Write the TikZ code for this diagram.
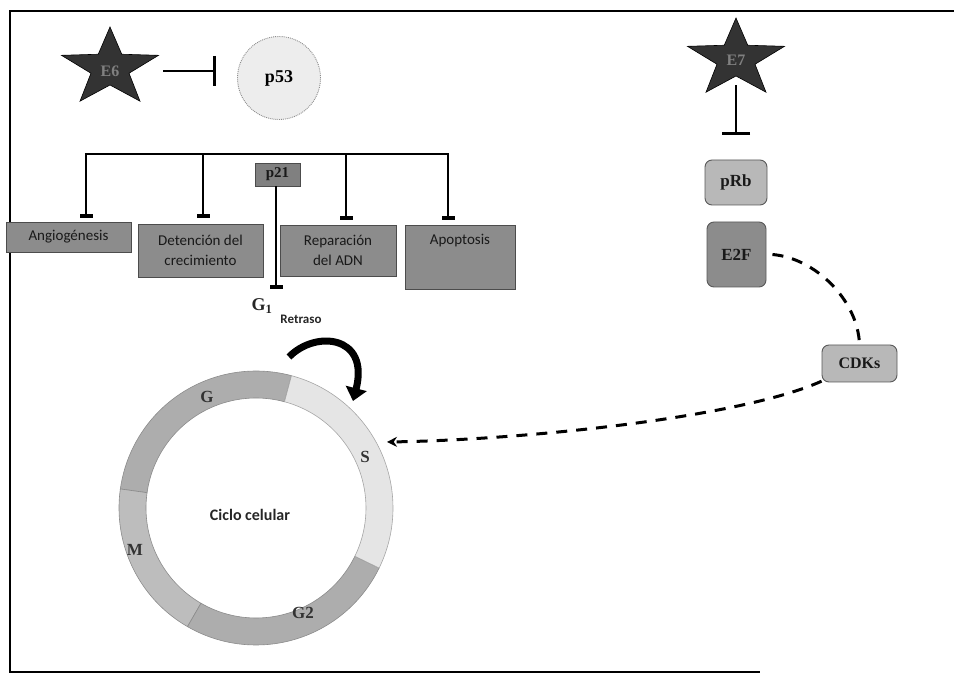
\documentclass[tikz,border=0pt]{standalone}
\usepackage{fontspec}
\setmainfont{Liberation Serif}
\newfontfamily\carl{Carlito}
\usetikzlibrary{arrows.meta}
\newcommand{\mystar}[2]{%
  \filldraw[draw=black, fill=black!80, line width=0.6pt]
    plot[samples at={0,...,9}, variable=\k]
    ({#1+ifthenelse(mod(\k,2)==0,51,20)*cos(90+36*\k)},
     {#2-ifthenelse(mod(\k,2)==0,41,17)*sin(90+36*\k)}) -- cycle;}
\begin{document}
\begin{tikzpicture}[x=1pt,y=-1pt,
  box/.style={draw=black!70, fill=black!45, line width=0.8pt, inner sep=0,
    font=\carl\fontsize{15}{20}\selectfont, text=black!90, align=center},
  rbox/.style={draw=black!65, rounded corners=7pt, line width=0.9pt, inner sep=0,
    font=\bfseries\fontsize{17}{20}\selectfont, text=black!90},
  inh/.style={line width=2.5pt, -{Bar[width=13pt,line width=3.5pt]}},
  inhbig/.style={line width=2.5pt, -{Bar[width=30pt,line width=3pt]}},
  dashline/.style={line width=3pt, dash pattern=on 11pt off 9pt},
  lbl/.style={font=\bfseries\fontsize{17}{20}\selectfont, text=black!80},
  startxt/.style={minimum width=106pt, minimum height=50pt, inner sep=0,
    font=\bfseries\fontsize{16}{18}\selectfont, text=black!50}
]
\useasboundingbox (0,0) rectangle (954,684);
% frame
\coordinate (ftr) at (954,11);
\coordinate (ftl) at (10,11);
\coordinate (fbl) at (10,672);
\coordinate (fbr) at (760,672);
\draw[line width=2pt] (ftr) -- (ftl) -- (fbl) -- (fbr);

% ---- left part: E6 / p53
\mystar{110}{68}
\node[startxt] (e6) at (110,71) {E6};
\node[circle, draw=black!45, densely dotted, line width=0.9pt, fill=black!7,
  minimum size=83pt, inner sep=0, font=\bfseries\fontsize{18}{20}\selectfont] (p53) at (279,78) {p53};
\draw[inhbig, shorten >=21pt] (e6.east) -- (e6.east -| p53.west);

% boxes
\node[box, minimum width=125pt, minimum height=30pt] (ang) at (68.5,237) {Angiogénesis};
\node[box, minimum width=125pt, minimum height=53pt] (det) at (200.5,250.5) {Detención del\\crecimiento};
\node[box, minimum width=116pt, minimum height=51pt] (rep) at (338,250.5) {Reparación\\del ADN};
\node[box, minimum width=110pt, minimum height=64pt] (apo) at (460,257) {};
\node[font=\carl\fontsize{15}{20}\selectfont, text=black!90, anchor=north, inner sep=0] (apot) at ([yshift=-9pt]apo.north) {Apoptosis};
\node[draw=black!70, fill=black!50, line width=0.8pt, minimum width=45pt, minimum height=23pt,
  inner sep=0, font=\bfseries\fontsize{15}{18}\selectfont, text=black!90] (p21) at (277.5,174.5) {p21};

% bracket
\coordinate (b1) at (86,154);
\coordinate (b2) at (203,154);
\coordinate (b3) at (346,154);
\coordinate (b4) at (448,154);
\draw[line width=2.5pt] ([xshift=-1.25pt]b1) -- ([xshift=1.25pt]b4);
\draw[inh, shorten >=4pt] (b1) -- (b1 |- ang.north);
\draw[inh, shorten >=6pt] (b2) -- (b2 |- det.north);
\draw[inh, shorten >=5pt] (b3) -- (b3 |- rep.north);
\draw[inh, shorten >=5pt] (b4) -- (b4 |- apo.north);
\coordinate (g1bar) at (276,289);
\draw[inh] (p21.south -| g1bar) -- (g1bar);
\node[font=\bfseries\fontsize{18}{20}\selectfont, text=black!85] (g1) at (262,306) {G\textsubscript{1}};
\node[font=\carl\bfseries\fontsize{13}{15}\selectfont, text=black!85] (retraso) at (301,319) {Retraso};

% curved arrow
\coordinate (ca1) at (289,357);
\coordinate (ca2) at (353,401);
\draw[line width=7pt, -{Triangle[width=21pt,length=13pt]}] (ca1) .. controls (315,330) and (370,335) .. (ca2);

% cell cycle ring
\begin{scope}[shift={(256,508)}, yscale=-1]
  \def\ro{137}\def\ri{110}
  \filldraw[fill=black!32, draw=black!45, line width=0.6pt] (75:\ro) arc[start angle=75,end angle=172,radius=\ro] -- (172:\ri) arc[start angle=172,end angle=75,radius=\ri] -- cycle;
  \filldraw[fill=black!26, draw=black!45, line width=0.6pt] (172:\ro) arc[start angle=172,end angle=240,radius=\ro] -- (240:\ri) arc[start angle=240,end angle=172,radius=\ri] -- cycle;
  \filldraw[fill=black!32, draw=black!45, line width=0.6pt] (240:\ro) arc[start angle=240,end angle=334,radius=\ro] -- (334:\ri) arc[start angle=334,end angle=240,radius=\ri] -- cycle;
  \filldraw[fill=black!10, draw=black!35, line width=0.6pt] (334:\ro) arc[start angle=334,end angle=435,radius=\ro] -- (435:\ri) arc[start angle=435,end angle=334,radius=\ri] -- cycle;
\end{scope}
\node[lbl] (lg) at (207,397) {G};
\node[lbl] (ls) at (365,457) {S};
\node[lbl] (lm) at (135,550) {M};
\node[lbl] (lg2) at (303,613) {G2};
\node[font=\carl\bfseries\fontsize{16}{18}\selectfont, text=black!85] (ciclo) at (250,515) {Ciclo celular};

% ---- right part: E7 / pRb / E2F / CDKs
\mystar{736}{59}
\node[startxt] (e7) at (736,60) {E7};
\node[rbox, fill=black!28, minimum width=62pt, minimum height=45pt] (prb) at (736,182.5) {pRb};
\node[rbox, fill=black!45, minimum width=59pt, minimum height=65pt] (e2f) at (736.5,254.5) {E2F};
\node[rbox, fill=black!28, minimum width=75pt, minimum height=37pt, font=\bfseries\fontsize{16}{18}\selectfont] (cdks) at (859.5,363.5) {CDKs};
\draw[line width=2.5pt, -{Bar[width=28pt,line width=3pt]}, shorten >=25pt] (e7.south) -- (prb.north);
\draw[dashline] ([xshift=6pt]e2f.east) .. controls (815,258) and (858,300) .. (cdks.north);
\coordinate (sin) at (387,442);
\draw[dashline, -{Stealth[length=10pt,width=10pt]}] (cdks.205) .. controls (740,418) and (520,440) .. (sin);
\end{tikzpicture}
\end{document}
